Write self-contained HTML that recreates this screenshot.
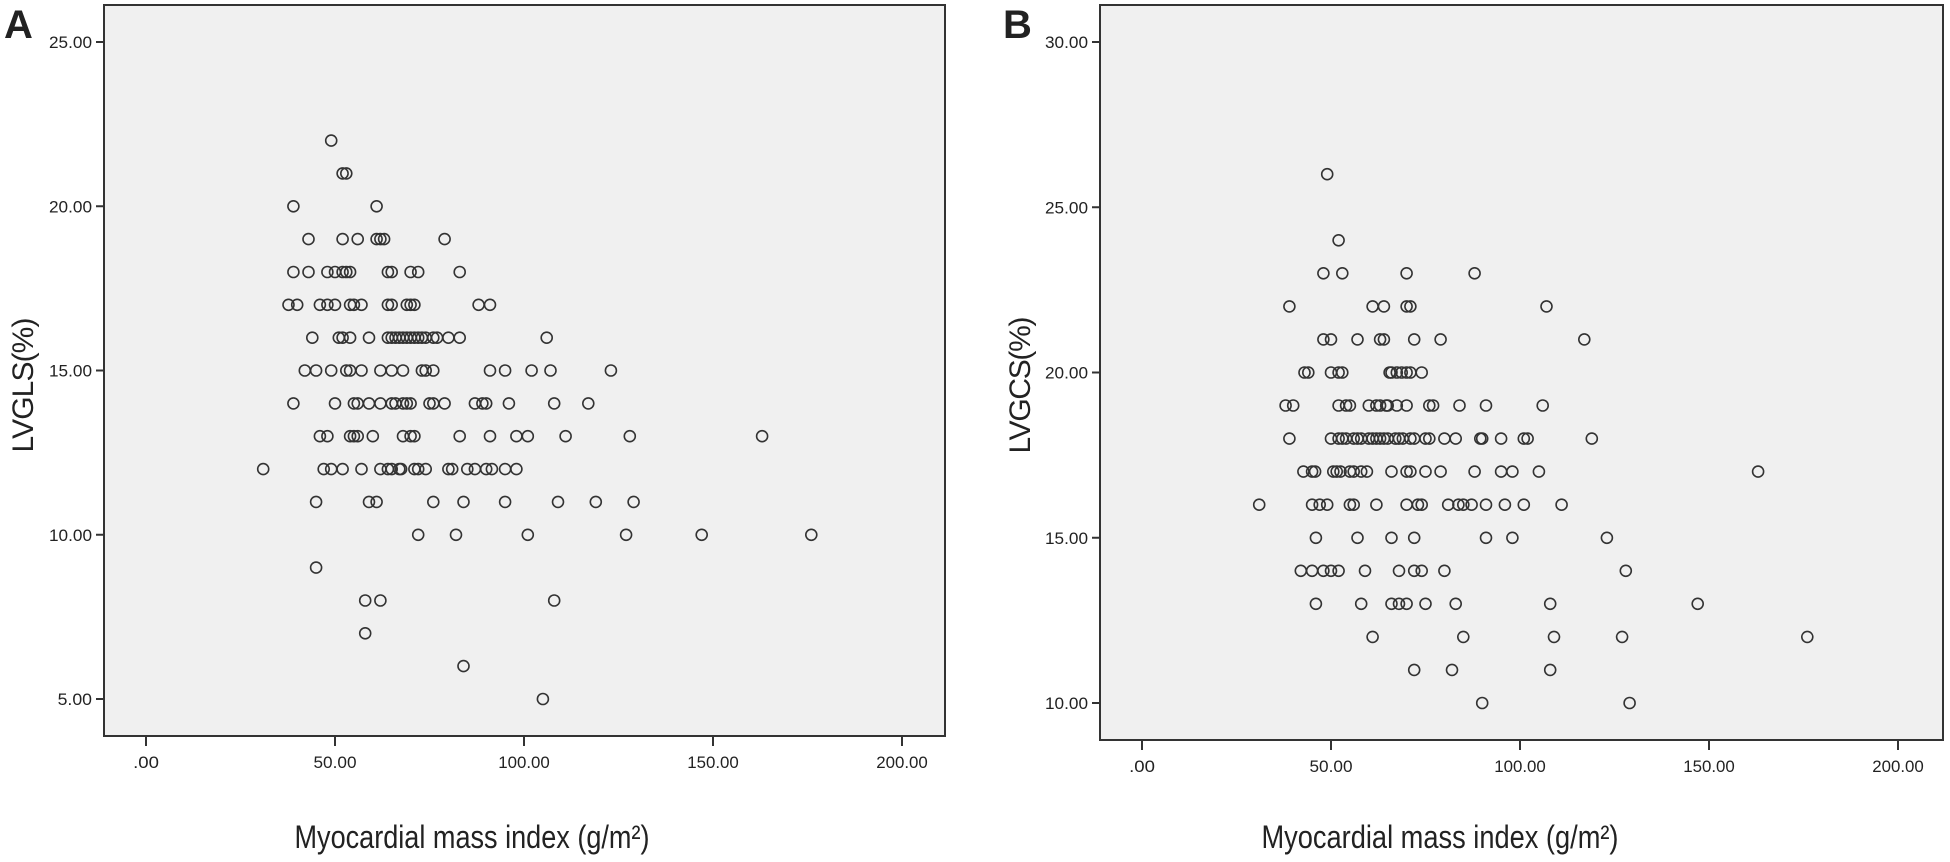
<!DOCTYPE html>
<html><head><meta charset="utf-8"><style>
html,body{margin:0;padding:0;background:#fff;}
svg{display:block;}
text{font-family:"Liberation Sans",sans-serif;fill:#222;}
</style></head><body>
<svg id="s" width="1950" height="862" xmlns="http://www.w3.org/2000/svg">
<rect x="104" y="5" width="841" height="731" fill="#f0f0f0" stroke="#333" stroke-width="2"/>
<rect x="1100" y="5" width="843" height="735" fill="#f0f0f0" stroke="#333" stroke-width="2"/>
<text x="4" y="38" font-size="40" font-weight="bold" fill="#000">A</text>
<text x="1003" y="38" font-size="40" font-weight="bold" fill="#000">B</text>
<text transform="translate(33,385) rotate(-90)" text-anchor="middle" font-size="30" textLength="135">LVGLS(%)</text>
<text transform="translate(1030,385) rotate(-90)" text-anchor="middle" font-size="30" textLength="137">LVGCS(%)</text>
<text x="472" y="848" text-anchor="middle" font-size="32" textLength="355" lengthAdjust="spacingAndGlyphs">Myocardial mass index (g/m²)</text>
<text x="1440" y="848" text-anchor="middle" font-size="32" textLength="357" lengthAdjust="spacingAndGlyphs">Myocardial mass index (g/m²)</text>
<g id="g"></g>
</svg>
<script>
var g=document.getElementById('g'),h='';
function T(x,y,s,a){h+='<text x="'+x+'" y="'+y+'" font-size="17" text-anchor="'+a+'" textLength="'+(s.length*8.6)+'" lengthAdjust="spacingAndGlyphs">'+s+'</text>';}
function L(x1,y1,x2,y2){h+='<line x1="'+x1+'" y1="'+y1+'" x2="'+x2+'" y2="'+y2+'" stroke="#333" stroke-width="2"/>';}
function lab(v){return v==0?'.00':v.toFixed(2);}
for(var v=5;v<=25;v+=5){var y=42+(25-v)*32.85;L(96,y,104,y);T(92,y+6,lab(v),'end');}
for(var v=0;v<=200;v+=50){var x=146+v*3.78;L(x,736,x,746);T(x,768,lab(v),'middle');}
for(var v=10;v<=30;v+=5){var y=42+(30-v)*33.05;L(1092,y,1100,y);T(1088,y+6,lab(v),'end');}
for(var v=0;v<=200;v+=50){var x=1142+v*3.78;L(x,740,x,750);T(x,772,lab(v),'middle');}
var A={22:[49],21:[52,53],20:[39,61],19:[43,52,56,61,62,63,79],
18:[39,43,48,50,52,53,54,64,65,70,72,83],
17:[37.7,40,46,48,50,54,55,57,64,65,69,70,71,88,91],
16:[44,51,52,54,59,64,65,66,67,68,69,70,71,72,73,74,76,77,80,83,106],
15:[42,45,49,53,54,57,62,65,68,73,74,76,91,95,102,107,123],
14:[39,50,55,56,59,62,65,66,68,69,70,75,76,79,87,89,90,96,108,117],
13:[46,48,54,55,56,60,68,70,71,83,91,98,101,111,128,163],
12:[31,47,49,52,57,62,64,65,67,67.5,71,72,74,80,81,85,87,90,91.5,95,98],
11:[45,59,61,76,84,95,109,119,129],10:[72,82,101,127,147,176],9:[45],8:[58,62,108],7:[58],6:[84],5:[105]};
var B={26:[49],24:[52],23:[48,53,70,88],22:[39,61,64,70,71,107],21:[48,50,57,63,64,72,79,117],
20:[43,44,50,52,53,65.5,66,67.4,68.7,70,71,74],
19:[38,40,52,54,55,60,62,63,64.6,65,67.4,70,76,77,84,91,106],
18:[39,50,52,53,54,56,57,58,60,61,62,63,64,65,67,68,69,71,72,75,76,80,83,89.5,90,95,101,102,119],
17:[42.7,45,45.8,50.6,51.5,52.5,55,56,58,59.5,66,70,71,75,79,88,95,98,105,163],
16:[31,45,47,49,55,56,62,70,73,74,81,83.7,85,87.2,91,96,101,111],
15:[46,57,66,72,91,98,123],14:[42,45,48,50,52,59,68,72,74,80,128],
13:[46,58,66,68,70,75,83,108,147],12:[61,85,109,127,176],11:[72,82,108],10:[90,129]};
function C(x,y){h+='<circle cx="'+x.toFixed(1)+'" cy="'+y.toFixed(1)+'" r="5.5" fill="none" stroke="#333" stroke-width="1.6"/>';}
for(var k in A)A[k].forEach(function(x){C(146+x*3.78,42+(25-k)*32.85);});
for(var k in B)B[k].forEach(function(x){C(1142+x*3.78,42+(30-k)*33.05);});
g.innerHTML=h;
</script>
</body></html>
